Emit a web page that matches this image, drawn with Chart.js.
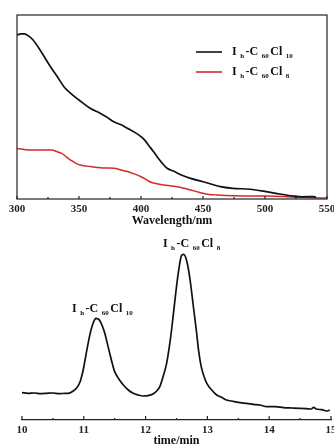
<!DOCTYPE html>
<html><head><meta charset="utf-8">
<script src="https://cdn.jsdelivr.net/npm/chart.js@4.4.0/dist/chart.umd.min.js"></script>
<style>
html,body{margin:0;padding:0;width:334px;height:444px;overflow:hidden;background:#fff;}
#c1{position:absolute;left:0;top:0;}
#c2{position:absolute;left:0;top:228px;}
</style></head><body>
<canvas id="c1" width="345" height="228"></canvas>
<canvas id="c2" width="345" height="224"></canvas>
<script>
// ---- UV-Vis spectra (top panel) ----
const wavelengthTicks = [300, 350, 400, 450, 500, 550];
const blackWavelengths = [300,303,306,309,313,320,327,333,338,344,350,359,367,372,378,384,389,395,400,403,406,410,413,417,421,427,433,440,450,457,464,474,488,501,512,523,530,539,541];
const blackAbsorbance = [0.891,0.897,0.897,0.888,0.864,0.795,0.719,0.66,0.609,0.57,0.538,0.493,0.466,0.447,0.42,0.403,0.384,0.362,0.339,0.32,0.293,0.258,0.23,0.195,0.167,0.149,0.129,0.112,0.094,0.08,0.067,0.058,0.053,0.04,0.027,0.016,0.012,0.013,0.01];
const redWavelengths = [300,310,320,328,332,336,340,344,348,351,359,367,373,378,384,389,395,400,404,407,412,418,429,435,440,445,450,455,461,475,502,515,528,540,550];
const redAbsorbance = [0.275,0.266,0.266,0.266,0.258,0.248,0.228,0.208,0.192,0.185,0.176,0.17,0.168,0.167,0.158,0.149,0.135,0.121,0.107,0.094,0.084,0.076,0.067,0.058,0.049,0.04,0.031,0.025,0.022,0.018,0.016,0.013,0.009,0.007,0.005];
// formula labels: [text, isSubscript]
const nameC60Cl10 = [['I',0],['h',1],['-C',0],['60',1],['Cl',0],['10',1]];
const nameC60Cl8 = [['I',0],['h',1],['-C',0],['60',1],['Cl',0],['8',1]];

// ---- HPLC chromatogram (bottom panel) ----
const timeTicks = [10, 11, 12, 13, 14, 15];
const times = [10.0,10.1,10.2,10.3,10.4,10.5,10.6,10.7,10.75,10.82,10.88,10.94,10.99,11.03,11.07,11.11,11.15,11.18,11.2,11.23,11.26,11.3,11.34,11.38,11.42,11.46,11.5,11.57,11.64,11.72,11.8,11.88,11.96,12.04,12.12,12.18,12.23,12.28,12.34,12.38,12.42,12.46,12.5,12.54,12.58,12.61,12.64,12.68,12.72,12.77,12.82,12.86,12.9,12.95,12.99,13.07,13.15,13.23,13.31,13.42,13.53,13.64,13.74,13.85,13.96,14.1,14.23,14.37,14.5,14.6,14.68,14.72,14.76,14.85,14.93,14.98];
const signal = [82,80,81,79,80,81,79,80,80,86,95,115,150,190,230,265,290,302,305,303,298,282,260,230,200,170,145,122,105,90,80,75,72,73,78,87,100,128,170,215,270,335,400,455,493,497,492,465,420,345,270,205,160,128,110,90,75,68,60,56,52,50,47,45,40,40,37,36,35,34,33,38,33,31,27,30];

const SERIF = '"Liberation Serif", "Times New Roman", serif';

function drawRich(ctx, parts, x, y, size, color) {
  ctx.save();
  ctx.fillStyle = color || '#111';
  ctx.textBaseline = 'alphabetic';
  ctx.textAlign = 'left';
  for (const [t, sub] of parts) {
    if (sub) { ctx.font = 'bold 7px ' + SERIF; x += 3; ctx.fillText(t, x, y + 3); x += ctx.measureText(t).width + 1.5; }
    else { ctx.font = 'bold ' + size + 'px ' + SERIF; ctx.fillText(t, x, y); x += ctx.measureText(t).width + 0.5; }
  }
  ctx.restore();
}

function inwardTicks(chart, scale, major, minorStep, majLen, minLen) {
  const ctx = chart.ctx, ca = chart.chartArea;
  ctx.save();
  ctx.strokeStyle = '#222';
  ctx.lineWidth = 1.2;
  const min = scale.min, max = scale.max;
  const n = Math.round((max - min) / minorStep);
  for (let i = 0; i <= n; i++) {
    const v = min + i * minorStep;
    const isMajor = major.some(m => Math.abs(m - v) < 1e-6);
    const px = scale.getPixelForValue(v);
    ctx.beginPath();
    ctx.moveTo(px, ca.bottom);
    ctx.lineTo(px, ca.bottom - (isMajor ? majLen : minLen));
    ctx.stroke();
  }
  ctx.restore();
}

const topPlugin = {
  id: 'topDeco',
  afterDatasetsDraw(chart) {
    const ctx = chart.ctx, ca = chart.chartArea;
    ctx.save();
    ctx.strokeStyle = '#333';
    ctx.lineWidth = 1.3;
    ctx.strokeRect(ca.left, ca.top, ca.right - ca.left, ca.bottom - ca.top);
    ctx.restore();
    inwardTicks(chart, chart.scales.x, wavelengthTicks, 25, 3, 2);
    // legend
    const items = [[chart.data.datasets[0], nameC60Cl10, 52], [chart.data.datasets[1], nameC60Cl8, 72]];
    for (const [ds, parts, y] of items) {
      ctx.save();
      ctx.strokeStyle = ds.borderColor;
      ctx.lineWidth = 1.6;
      ctx.beginPath(); ctx.moveTo(196, y); ctx.lineTo(222, y); ctx.stroke();
      ctx.restore();
      drawRich(ctx, parts, 232, y + 3, 12);
    }
  }
};

new Chart(document.getElementById('c1'), {
  type: 'line',
  data: {
    datasets: [
      { label: 'Ih-C60Cl10', data: blackWavelengths.map((w, i) => ({ x: w, y: blackAbsorbance[i] })), borderColor: '#111', borderWidth: 1.7, pointRadius: 0, tension: 0.4, cubicInterpolationMode: 'monotone', fill: false },
      { label: 'Ih-C60Cl8', data: redWavelengths.map((w, i) => ({ x: w, y: redAbsorbance[i] })), borderColor: '#d42a2a', borderWidth: 1.5, pointRadius: 0, tension: 0.4, cubicInterpolationMode: 'monotone', fill: false }
    ]
  },
  options: {
    responsive: false, animation: false,
    layout: { padding: { top: 15, left: 17, right: 18, bottom: 0 } },
    plugins: { legend: { display: false }, tooltip: { enabled: false } },
    scales: {
      x: {
        type: 'linear', min: 300, max: 550,
        afterBuildTicks: s => { s.ticks = wavelengthTicks.map(v => ({ value: v })); },
        grid: { display: false, drawTicks: false }, border: { display: false },
        ticks: { padding: 4, maxRotation: 0, autoSkip: false, color: '#222', font: { family: SERIF, weight: 'bold', size: 11 } },
        title: { display: true, text: 'Wavelength/nm', color: '#111', padding: 0, font: { family: SERIF, weight: 'bold', size: 12 } },
        afterFit: s => { s.height = 29; }
      },
      y: { display: false, min: 0, max: 1 }
    }
  },
  plugins: [topPlugin]
});

const bottomPlugin = {
  id: 'bottomDeco',
  afterDatasetsDraw(chart) {
    const ctx = chart.ctx, xs = chart.scales.x, ys = chart.scales.y;
    inwardTicks(chart, xs, timeTicks, 0.5, 4, 2);
    drawRich(ctx, nameC60Cl10, xs.getPixelForValue(10.81), ys.getPixelForValue(336) + 4, 12);
    drawRich(ctx, nameC60Cl8, xs.getPixelForValue(12.28), ys.getPixelForValue(531) + 4, 12);
  }
};

new Chart(document.getElementById('c2'), {
  type: 'line',
  data: {
    datasets: [
      { label: 'HPLC', data: times.map((t, i) => ({ x: t, y: signal[i] })), borderColor: '#111', borderWidth: 1.7, pointRadius: 0, tension: 0.4, cubicInterpolationMode: 'monotone', fill: false }
    ]
  },
  options: {
    responsive: false, animation: false,
    layout: { padding: { top: 2, left: 22, right: 14, bottom: 0 } },
    plugins: { legend: { display: false }, tooltip: { enabled: false } },
    scales: {
      x: {
        type: 'linear', min: 10, max: 15,
        afterBuildTicks: s => { s.ticks = timeTicks.map(v => ({ value: v })); },
        grid: { display: false, drawTicks: false }, border: { display: true, color: '#222', width: 1.3 },
        ticks: { padding: 4, maxRotation: 0, autoSkip: false, color: '#222', font: { family: SERIF, weight: 'bold', size: 11 } },
        title: { display: true, text: 'time/min', color: '#111', padding: { top: 0, bottom: 4 }, font: { family: SERIF, weight: 'bold', size: 12 } },
        afterFit: s => { s.height = 32; }
      },
      y: { display: false, min: 0, max: 570 }
    }
  },
  plugins: [bottomPlugin]
});
</script>
</body></html>
